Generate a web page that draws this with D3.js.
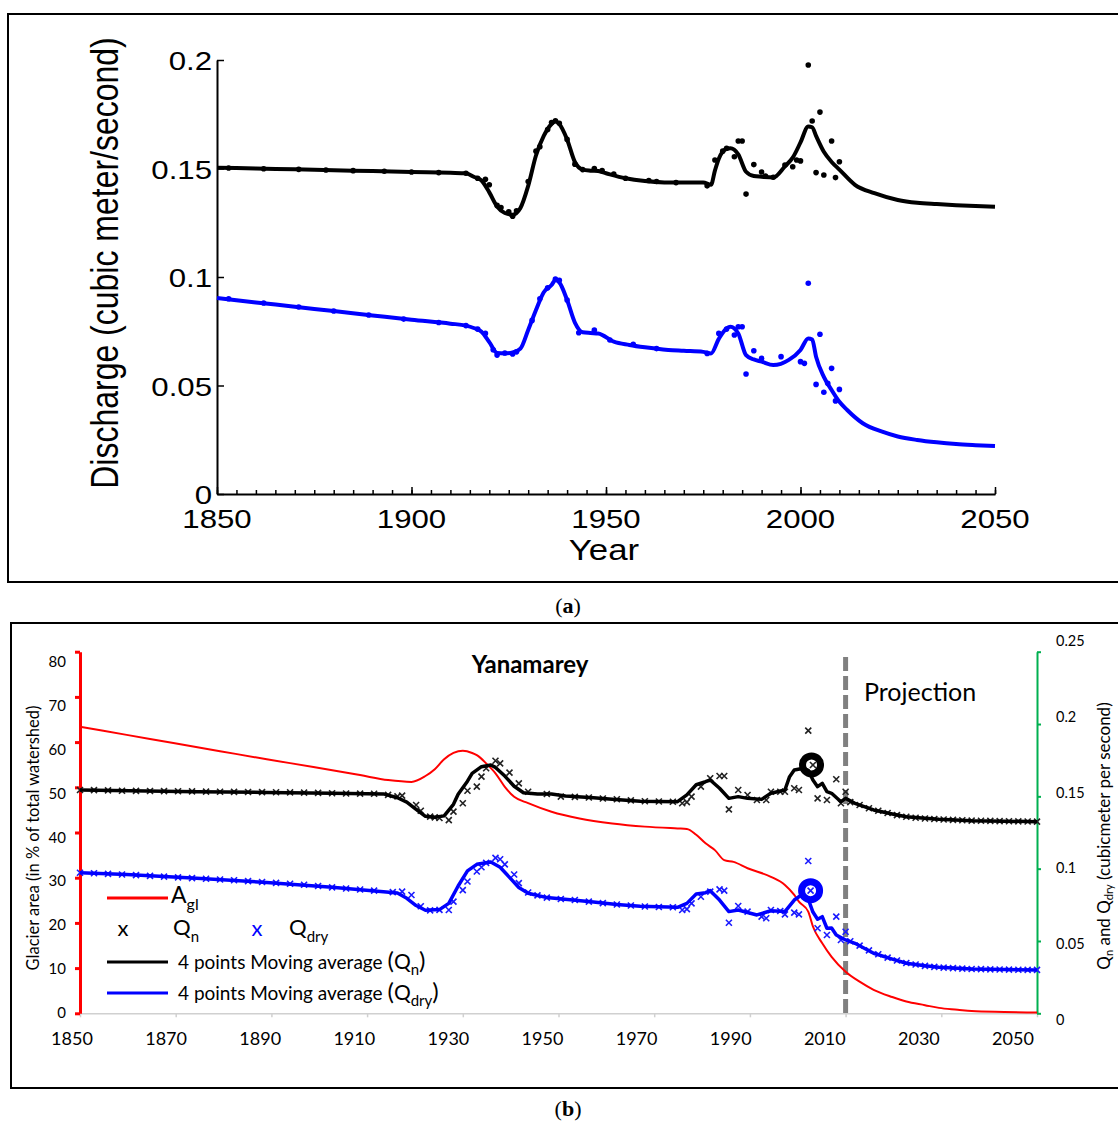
<!DOCTYPE html>
<html>
<head>
<meta charset="utf-8">
<script src="https://cdn.jsdelivr.net/npm/d3@7"></script>
<style>
  body { margin: 0; background: #fff; }
  svg { display: block; }
  .pa text { font-family: "Liberation Sans", Arial, sans-serif; fill: #000; }
  .pb text { font-family: Lato, "Open Sans", sans-serif; fill: #000; }
  .cap text { font-family: "Liberation Serif", "DejaVu Serif", serif; font-size: 22px; }
</style>
</head>
<body>
<svg width="1118" height="1122"></svg>
<script>
//---------------- data, panel (a) ----------------
// moving average line of the normal discharge (black)
let yearsQnA = [1850,1860,1870,1880,1890,1900,1910,1914,1916,1918,1920,1922,1924,1926,1928,1930,1932,1934,1936,1937,1938,1940,1942,1944,1946,1948,1950,1955,1960,1965,1970,1975,1977,1978,1979,1981,1982,1984,1986,1988,1990,1993,1996,1998,2000,2002,2003,2004,2006,2008,2010,2014,2019,2025,2030,2035,2040,2045,2050];
let qnA = [.1504,.1500,.1496,.1492,.1488,.1484,.1480,.1478,.1462,.1445,.1390,.1325,.1295,.1287,.1318,.1420,.1560,.1650,.1705,.1718,.1705,.1634,.1530,.1495,.1490,.1488,.1478,.1455,.1442,.1436,.1435,.1435,.1425,.1490,.1545,.1590,.1593,.1565,.1485,.1465,.1462,.1459,.1510,.1550,.1620,.1694,.1690,.1650,.1577,.1530,.1495,.1425,.1386,.1355,.1342,.1336,.1331,.1327,.1324];
// yearly dots of the normal discharge
let dotYearsQnA = [1853,1862,1871,1878,1885,1893,1900,1907,1914,1917,1919,1920,1922,1923,1925,1926,1927,1930,1932,1933,1935,1936,1937,1938,1940,1942,1944,1947,1949,1952,1955,1961,1963,1968,1976,1978,1980,1981,1983,1984,1985,1986,1988,1990,1991,1993,1996,1998,1999,2000,2002,2003,2004,2005,2006,2008,2009,2010];
let dotQnA = [.1502,.1499,.1496,.1493,.1490,.1487,.1484,.1481,.1478,.1455,.1450,.1425,.1330,.1320,.1300,.1280,.1305,.1440,.1580,.1600,.1680,.1712,.1720,.1708,.1634,.1520,.1495,.1500,.1490,.1475,.1455,.1445,.1440,.1435,.1420,.1539,.1580,.1593,.1554,.1627,.1627,.1382,.1518,.1484,.1465,.1460,.1516,.1508,.1539,.1535,.1977,.1719,.1481,.1760,.1470,.1627,.1458,.1531];
// moving average line of the dry season discharge (blue)
let yearsQdA = [1850,1860,1870,1880,1890,1900,1910,1914,1916,1918,1920,1922,1924,1926,1928,1930,1932,1934,1936,1937,1938,1940,1942,1944,1946,1948,1952,1956,1960,1966,1970,1975,1977,1979,1981,1982,1984,1986,1988,1990,1993,1997,2000,2002,2003,2004,2006,2008,2010,2012,2016,2021,2025,2030,2035,2040,2045,2050];
let qdA = [.0903,.0883,.0863,.0843,.0823,.0803,.0785,.0776,.0765,.0748,.0700,.0650,.0648,.0652,.0670,.0756,.0848,.0930,.0963,.0986,.0975,.0894,.0790,.0745,.0742,.0740,.0702,.0687,.0676,.0664,.0660,.0655,.0648,.0715,.0763,.0771,.0740,.0640,.0620,.0610,.0594,.0618,.0664,.0717,.0712,.0633,.0540,.0479,.0425,.0387,.0326,.0287,.0265,.0249,.0238,.0230,.0225,.0221];
let dotYearsQdA = [1853,1862,1871,1880,1889,1898,1907,1914,1917,1919,1921,1922,1924,1926,1927,1931,1933,1935,1937,1938,1940,1943,1947,1951,1957,1963,1976,1979,1981,1983,1984,1985,1986,1988,1990,1995,2000,2001,2002,2004,2005,2006,2007,2008,2009,2010];
let dotQdA = [.0900,.0880,.0862,.0843,.0825,.0806,.0790,.0776,.0760,.0740,.0665,.0640,.0650,.0645,.0655,.0800,.0900,.0950,.0990,.0985,.0894,.0743,.0755,.0710,.0690,.0670,.0648,.0740,.0760,.0733,.0771,.0771,.0553,.0660,.0625,.0633,.0610,.0602,.0971,.0505,.0736,.0469,.0510,.0579,.0429,.0482];
let xLabelsA = [1850,1900,1950,2000,2050];
let yLabelsA = [0,0.05,0.1,0.15,0.2];

//---------------- data, panel (b) ----------------
// glacier area, % of watershed (red)
let yearsAgl = [1850,1860,1870,1880,1890,1900,1910,1916,1921,1924,1926,1928,1930,1932,1934,1935,1937,1939,1941,1943,1946,1951,1957,1964,1971,1978,1980,1982,1984,1986,1988,1990,1993,1998,2001,2003,2004,2006,2007,2009,2011,2014,2017,2020,2024,2027,2031,2034,2038,2041,2048,2055];
let agl = [63.4,61.6,59.8,58.0,56.2,54.5,52.7,51.6,51.2,52.5,54.0,56.2,57.6,58.1,57.6,57.1,55.3,53.1,50.1,47.9,46.5,44.6,43.1,42.0,41.3,40.9,40.8,39.5,37.6,36.1,33.9,33.5,32.1,30.2,28.4,26.2,24.7,22.5,19.2,15.5,12.5,9.2,7.0,5.2,3.6,2.6,1.8,1.2,0.8,0.5,0.3,0.15];
// 4 points moving average of Qn (black)
let yearsQnB = [1850,1875,1890,1904,1915,1918,1920,1922,1924,1926,1928,1930,1931,1933,1934,1936,1938,1939,1941,1943,1945,1948,1951,1954,1960,1964,1970,1978,1980,1982,1984,1985,1987,1989,1991,1993,1996,1998,2001,2002,2003,2005,2006,2007,2008,2009,2010,2011,2013,2014,2016,2020,2024,2027,2031,2034,2041,2048,2055];
let qnB = [.1544,.1532,.1527,.1521,.1517,.1490,.1460,.1410,.1362,.1355,.1365,.1445,.1515,.1605,.1659,.1705,.1717,.1700,.1640,.1570,.1525,.1516,.1516,.1502,.1490,.1480,.1466,.1463,.1510,.1580,.1601,.1613,.1556,.1486,.1498,.1486,.1479,.1521,.1544,.1636,.1682,.1694,.1680,.1613,.1567,.1590,.1532,.1521,.1463,.1486,.1452,.1406,.1378,.1359,.1348,.1341,.1332,.1328,.1325];
// Qn markers
let ptYearsQnB = [1850,1853,1856,1859,1862,1865,1868,1871,1874,1877,1880,1883,1886,1889,1892,1895,1898,1901,1904,1907,1910,1913,1916,1918,1919,1922,1923,1925,1926,1927,1929,1930,1932,1933,1935,1936,1937,1939,1940,1942,1944,1946,1950,1953,1956,1959,1962,1965,1968,1971,1974,1977,1979,1980,1981,1983,1985,1987,1988,1989,1991,1993,1995,1997,1998,2000,2001,2003,2004,2006,2007,2008,2010,2012,2013,2014,2015,2017,2019,2021,2023,2025,2027,2029,2031,2033,2035,2037,2039,2041,2043,2045,2047,2049,2051,2053,2055];
let ptQnB = [.1544,.1543,.1541,.1539,.1538,.1537,.1536,.1535,.1534,.1533,.1532,.1531,.1530,.1529,.1528,.1527,.1526,.1524,.1521,.1520,.1519,.1518,.1510,.1500,.1505,.1440,.1400,.1360,.1355,.1350,.1336,.1394,.1452,.1539,.1567,.1636,.1694,.1746,.1728,.1664,.1590,.1532,.1516,.1498,.1496,.1492,.1485,.1480,.1472,.1466,.1464,.1463,.1452,.1460,.1498,.1567,.1625,.1641,.1641,.1410,.1544,.1509,.1475,.1475,.1532,.1532,.1532,.1556,.1544,.1954,.1717,.1486,.1475,.1618,.1452,.1532,.1460,.1440,.1418,.1400,.1385,.1370,.1359,.1352,.1347,.1343,.1340,.1337,.1335,.1332,.1331,.1330,.1329,.1328,.1327,.1326,.1325];
// 4 points moving average of Qdry (blue)
let yearsQdB = [1850,1860,1875,1890,1904,1915,1918,1920,1922,1924,1927,1929,1931,1933,1935,1938,1940,1942,1944,1946,1950,1955,1960,1965,1970,1978,1980,1982,1984,1985,1987,1989,1991,1995,1998,2001,2003,2004,2005,2006,2007,2008,2009,2010,2011,2012,2014,2016,2020,2024,2027,2031,2034,2041,2048,2055];
let qdB = [.0972,.0960,.0933,.0905,.0871,.0841,.0832,.0795,.0745,.0712,.0717,.0760,.0880,.0985,.1030,.1046,.1010,.0940,.0870,.0830,.0800,.0785,.0770,.0752,.0740,.0733,.0760,.0825,.0834,.0848,.0783,.0703,.0714,.0680,.0709,.0703,.0783,.0806,.0820,.0790,.0700,.0650,.0668,.0588,.0590,.0541,.0507,.0484,.0415,.0375,.0346,.0328,.0318,.0306,.0302,.0300];
// Qdry markers
let ptYearsQdB = [1850,1853,1856,1859,1862,1865,1868,1871,1874,1877,1880,1883,1886,1889,1892,1895,1898,1901,1904,1907,1910,1913,1917,1919,1921,1923,1925,1927,1929,1930,1932,1933,1935,1936,1937,1939,1940,1941,1943,1944,1946,1948,1950,1953,1956,1959,1962,1965,1968,1971,1974,1977,1979,1980,1981,1983,1985,1987,1988,1989,1991,1993,1996,1997,1998,2000,2001,2003,2004,2006,2006.5,2008,2010,2012,2013,2014,2015,2017,2019,2021,2023,2025,2027,2029,2031,2033,2035,2037,2039,2041,2043,2045,2047,2049,2051,2053,2055];
let ptQdB = [.0972,.0968,.0964,.0960,.0955,.0950,.0945,.0940,.0935,.0930,.0925,.0920,.0914,.0908,.0902,.0896,.0889,.0880,.0871,.0863,.0856,.0848,.0838,.0841,.0818,.0740,.0712,.0715,.0714,.0772,.0852,.0911,.0980,.1010,.1040,.1075,.1065,.1030,.0960,.0900,.0835,.0815,.0800,.0790,.0783,.0772,.0762,.0752,.0745,.0738,.0735,.0733,.0714,.0720,.0760,.0806,.0841,.0857,.0848,.0626,.0742,.0703,.0668,.0657,.0714,.0707,.0684,.0696,.0684,.1053,.0848,.0588,.0541,.0668,.0507,.0564,.0498,.0468,.0435,.0408,.0385,.0365,.0348,.0337,.0328,.0321,.0316,.0312,.0309,.0306,.0305,.0304,.0303,.0302,.0301,.0300,.0300];
// the two circled values
let circledQn = [2006.7, .1717];
let circledQd = [2006.5, .0848];
let projectionYear = 2014;
let xLabelsB = [1850,1870,1890,1910,1930,1950,1970,1990,2010,2030,2050];
let yLabelsLeftB = [0,10,20,30,40,50,60,70,80];
let yLabelsRightB = [0,0.05,0.1,0.15,0.2,0.25];

let svg = d3.select("svg");
svg.append("rect").attr("width", 1118).attr("height", 1122).attr("fill", "#fff");

//---------------- panel (a) ----------------
let pa = svg.append("g").attr("class", "pa");
pa.append("rect").attr("x", 8).attr("y", 14).attr("width", 1120).attr("height", 568)
  .attr("fill", "none").attr("stroke", "#000").attr("stroke-width", 2);

let xA = d3.scaleLinear().domain([1850, 2050]).range([217, 995]);
let yA = d3.scaleLinear().domain([0, 0.2]).range([494, 60]);

//minor ticks every 5 years, pointing inside
pa.append("g").attr("transform", "translate(0,494)")
  .call(d3.axisBottom(xA).tickValues(d3.range(1850, 2051, 5)).tickSize(-4).tickFormat("").tickSizeOuter(0))
  .call(g => g.selectAll("line").attr("stroke-width", 1.5));
//major ticks
pa.append("g").attr("transform", "translate(0,494)")
  .call(d3.axisBottom(xA).tickValues(xLabelsA).tickSize(-7).tickFormat("").tickSizeOuter(0))
  .call(g => g.select(".domain").attr("stroke-width", 2))
  .call(g => g.selectAll("line").attr("stroke-width", 1.5));
pa.append("g").attr("transform", "translate(217,0)")
  .call(d3.axisLeft(yA).tickValues(yLabelsA).tickSize(-7).tickFormat("").tickSizeOuter(0))
  .call(g => g.select(".domain").attr("stroke-width", 2))
  .call(g => g.selectAll("line").attr("stroke-width", 1.5));

//tick labels (the figure is stretched sideways, hence scale)
pa.selectAll(".xl").data(xLabelsA).enter().append("text")
  .attr("transform", d => "translate(" + xA(d) + ",528) scale(1.2,1)")
  .attr("text-anchor", "middle").attr("font-size", 26).text(d => d);
pa.selectAll(".yl").data(yLabelsA).enter().append("text")
  .attr("transform", d => "translate(212," + (yA(d) + 10) + ") scale(1.2,1)")
  .attr("text-anchor", "end").attr("font-size", 26).text(d => d);
pa.append("text").attr("transform", "translate(604,560) scale(1.2,1)")
  .attr("text-anchor", "middle").attr("font-size", 29).text("Year");
pa.append("text").attr("transform", "translate(118,263) scale(1.2,1) rotate(-90)")
  .attr("text-anchor", "middle").attr("font-size", 32).text("Discharge (cubic meter/second)");

let lineA = d3.line().x(d => xA(d[0])).y(d => yA(d[1])).curve(d3.curveMonotoneX);
pa.append("path").datum(d3.zip(yearsQnA, qnA)).attr("d", lineA)
  .attr("fill", "none").attr("stroke", "#000").attr("stroke-width", 4);
pa.append("path").datum(d3.zip(yearsQdA, qdA)).attr("d", lineA)
  .attr("fill", "none").attr("stroke", "#0000ff").attr("stroke-width", 4);
pa.selectAll(".dk").data(d3.zip(dotYearsQnA, dotQnA)).enter().append("circle")
  .attr("cx", d => xA(d[0])).attr("cy", d => yA(d[1])).attr("r", 2.8).attr("fill", "#000");
pa.selectAll(".db").data(d3.zip(dotYearsQdA, dotQdA)).enter().append("circle")
  .attr("cx", d => xA(d[0])).attr("cy", d => yA(d[1])).attr("r", 2.8).attr("fill", "#0000ff");

//---------------- panel (b) ----------------
let pb = svg.append("g").attr("class", "pb");
pb.append("rect").attr("x", 11).attr("y", 623).attr("width", 1120).attr("height", 465)
  .attr("fill", "none").attr("stroke", "#000").attr("stroke-width", 2);

let xB = d3.scaleLinear().domain([1850, 2055]).range([80, 1037]);     //data
let xTickB = d3.scaleLinear().domain([1850, 2050]).range([80, 1037]); //tick marks
let xLabB = d3.scaleLinear().domain([1850, 2050]).range([72, 1013]);  //tick labels
let yArea = d3.scaleLinear().domain([0, 80]).range([1013.3, 651.7]);
let yAreaLab = d3.scaleLinear().domain([0, 80]).range([1013, 662]);
let yQ = d3.scaleLinear().domain([0, 0.25]).range([1013.3, 651.7]);
let yQLab = d3.scaleLinear().domain([0, 0.25]).range([1020, 641]);

pb.append("g").attr("transform", "translate(0,1013.3)")
  .call(d3.axisBottom(xTickB).tickValues(xLabelsB).tickSize(4).tickFormat("").tickSizeOuter(0))
  .call(g => g.selectAll("line, .domain").attr("stroke", "#d0d0d0").attr("stroke-width", 1.5));
pb.selectAll(".xl").data(xLabelsB).enter().append("text")
  .attr("x", d => xLabB(d)).attr("y", 1045).attr("text-anchor", "middle")
  .attr("font-size", 18).text(d => d);

pb.append("g").attr("transform", "translate(1037,0)")
  .call(d3.axisRight(yQ).tickValues(yLabelsRightB).tickSize(4).tickFormat("").tickSizeOuter(0))
  .call(g => g.selectAll("line, .domain").attr("stroke", "#00b050").attr("stroke-width", 2));
pb.selectAll(".yr").data(yLabelsRightB).enter().append("text")
  .attr("x", 1056).attr("y", d => yQLab(d) + 5).attr("font-size", 14.5).text(d => d);

pb.append("g").attr("transform", "translate(80,0)")
  .call(d3.axisLeft(yArea).tickValues(yLabelsLeftB).tickSize(5).tickFormat("").tickSizeOuter(0))
  .call(g => g.selectAll("line, .domain").attr("stroke", "#ff0000").attr("stroke-width", 3));
pb.selectAll(".yll").data(yLabelsLeftB).enter().append("text")
  .attr("x", 66).attr("y", d => yAreaLab(d) + 5).attr("text-anchor", "end")
  .attr("font-size", 15).text(d => d);

pb.append("text").attr("transform", "translate(39,838) rotate(-90)")
  .attr("text-anchor", "middle").attr("font-size", 16.5)
  .text("Glacier area (in % of total watershed)");
let rt = pb.append("text").attr("transform", "translate(1110,836) rotate(-90)")
  .attr("text-anchor", "middle").attr("font-size", 17);
rt.append("tspan").text("Q");
rt.append("tspan").attr("font-size", 11).attr("dy", 3).text("n");
rt.append("tspan").attr("dy", -3).text(" and Q");
rt.append("tspan").attr("font-size", 11).attr("dy", 3).text("dry");
rt.append("tspan").attr("dy", -3).text(" (cubicmeter per second)");

pb.append("text").attr("x", 530).attr("y", 673).attr("text-anchor", "middle")
  .attr("font-size", 24).attr("font-weight", "bold").text("Yanamarey");
pb.append("text").attr("x", 864).attr("y", 701).attr("font-size", 25).text("Projection");

//projection marker
pb.append("line").attr("x1", xB(projectionYear)).attr("x2", xB(projectionYear))
  .attr("y1", 657).attr("y2", yQ(0))
  .attr("stroke", "#808080").attr("stroke-width", 5).attr("stroke-dasharray", "14,5");

let lineB = d3.line().x(d => xB(d[0])).y(d => yQ(d[1]));
let lineArea = d3.line().x(d => xB(d[0])).y(d => yArea(d[1])).curve(d3.curveMonotoneX);

pb.append("path").datum(d3.zip(yearsAgl, agl)).attr("d", lineArea)
  .attr("fill", "none").attr("stroke", "#ff0000").attr("stroke-width", 2);

let cross = "M-3,-3L3,3M-3,3L3,-3";
pb.selectAll(".mk").data(d3.zip(ptYearsQnB, ptQnB)).enter().append("path")
  .attr("d", cross).attr("transform", d => "translate(" + xB(d[0]) + "," + yQ(d[1]) + ")")
  .attr("stroke", "#222").attr("stroke-width", 1.6);
pb.selectAll(".mb").data(d3.zip(ptYearsQdB, ptQdB)).enter().append("path")
  .attr("d", cross).attr("transform", d => "translate(" + xB(d[0]) + "," + yQ(d[1]) + ")")
  .attr("stroke", "#1a1aff").attr("stroke-width", 1.6);

pb.append("path").datum(d3.zip(yearsQnB, qnB)).attr("d", lineB)
  .attr("fill", "none").attr("stroke", "#000").attr("stroke-width", 3.5).attr("stroke-linejoin", "round");
pb.append("path").datum(d3.zip(yearsQdB, qdB)).attr("d", lineB)
  .attr("fill", "none").attr("stroke", "#0000ff").attr("stroke-width", 3.5).attr("stroke-linejoin", "round");

pb.append("circle").attr("cx", xB(circledQn[0])).attr("cy", yQ(circledQn[1])).attr("r", 9)
  .attr("fill", "none").attr("stroke", "#000").attr("stroke-width", 7);
pb.append("circle").attr("cx", xB(circledQd[0])).attr("cy", yQ(circledQd[1])).attr("r", 9)
  .attr("fill", "none").attr("stroke", "#0000ff").attr("stroke-width", 7);

//legend
let lg = pb.append("g");
lg.append("line").attr("x1", 107).attr("x2", 168).attr("y1", 898).attr("y2", 898)
  .attr("stroke", "#ff0000").attr("stroke-width", 3);
let t1 = lg.append("text").attr("x", 171).attr("y", 903).attr("font-size", 23);
t1.append("tspan").text("A");
t1.append("tspan").attr("font-size", 16).attr("dy", 7).text("gl");

lg.append("text").attr("x", 123).attr("y", 936).attr("text-anchor", "middle").attr("font-size", 22).text("x");
let t2 = lg.append("text").attr("x", 173).attr("y", 935).attr("font-size", 22);
t2.append("tspan").text("Q");
t2.append("tspan").attr("font-size", 15).attr("dy", 7).text("n");
lg.append("text").attr("x", 257).attr("y", 936).attr("text-anchor", "middle").attr("font-size", 22)
  .style("fill", "#0000ff").text("x");
let t3 = lg.append("text").attr("x", 289).attr("y", 935).attr("font-size", 22);
t3.append("tspan").text("Q");
t3.append("tspan").attr("font-size", 15).attr("dy", 7).text("dry");

lg.append("line").attr("x1", 107).attr("x2", 168).attr("y1", 962).attr("y2", 962)
  .attr("stroke", "#000").attr("stroke-width", 3);
lg.append("line").attr("x1", 107).attr("x2", 168).attr("y1", 993).attr("y2", 993)
  .attr("stroke", "#0000ff").attr("stroke-width", 3);
[["n", 969], ["dry", 1000]].forEach(function(r) {
  let t = lg.append("text").attr("x", 178).attr("y", r[1]).attr("font-size", 19);
  t.append("tspan").text("4 points Moving average ");
  t.append("tspan").attr("font-size", 24).text("(");
  t.append("tspan").attr("font-size", 21).text("Q");
  t.append("tspan").attr("font-size", 15).attr("dy", 6).text(r[0]);
  t.append("tspan").attr("font-size", 24).attr("dy", -6).text(")");
});

//---------------- captions ----------------
let cap = svg.append("g").attr("class", "cap");
[["a", 568, 613], ["b", 568, 1116]].forEach(function(c) {
  let t = cap.append("text").attr("x", c[1]).attr("y", c[2]).attr("text-anchor", "middle");
  t.append("tspan").text("(");
  t.append("tspan").attr("font-weight", "bold").text(c[0]);
  t.append("tspan").text(")");
});
</script>
</body>
</html>
